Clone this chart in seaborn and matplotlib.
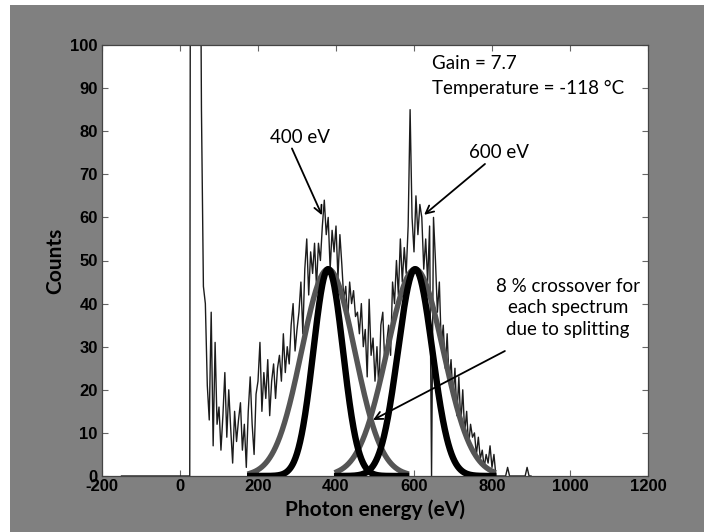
import numpy as np
import pandas as pd
import matplotlib
matplotlib.use("Agg")
import matplotlib.pyplot as plt
import seaborn as sns
from matplotlib.patches import Rectangle

# ---------------- data ----------------
spec_start = -150          # eV, first bin
spec_step = 5              # eV per bin
counts_low = [0] * 36      # -150 .. 25 eV
counts_noise_peak = [400, 420, 380, 300, 170]   # 30 .. 50 eV (clipped off the top)
counts_main = [
    85, 44, 40, 21, 13, 38, 7, 31, 12, 16,      # 55-100
    6, 14, 24, 9, 20, 11, 3, 15, 8, 13,         # 105-150
    17, 6, 12, 2, 15, 23, 12, 5, 19, 22,        # 155-200
    31, 15, 24, 18, 27, 14, 22, 26, 18, 25,     # 205-250
    28, 22, 33, 24, 30, 26, 35, 40, 29, 34,     # 255-300
    38, 45, 33, 48, 55, 42, 52, 47, 54, 44,     # 305-350
    54, 50, 58, 64, 56, 60, 48, 57, 52, 58,     # 355-400
    46, 56, 49, 41, 44, 36, 45, 40, 43, 37,     # 405-450
    38, 33, 40, 30, 34, 23, 41, 28, 32, 22,     # 455-500
    30, 20, 35, 38, 26, 31, 35, 28, 45, 40,     # 505-550
    50, 42, 55, 45, 53, 47, 58, 85, 60, 52,     # 555-600
    65, 56, 63, 60, 48, 55, 45, 58, 0, 60,      # 605-650
    50, 38, 45, 30, 35, 25, 33, 22, 27, 18,     # 655-700
    25, 14, 23, 12, 20, 10, 15, 7, 12, 9,       # 705-750
    10, 5, 9, 4, 6, 2, 5, 3, 7, 2,              # 755-800
    5, 0,                                       # 805-810
]
counts_tail = [0, 0, 0, 0, 0, 2, 0, 0, 0, 0, 0, 0, 0, 0, 0, 2, 0, 0]  # 815-900

# Gaussian fits: [400 eV line, 600 eV line]
fit_center = [380, 603]
fit_amplitude = [48, 48]
fit_sigma_gray = [68, 72]
fit_sigma_black = [38, 44]
fit_half_range = 200

x_ticks = [-200, 0, 200, 400, 600, 800, 1000, 1200]
y_ticks = [0, 10, 20, 30, 40, 50, 60, 70, 80, 90, 100]

# ---------------- build tables ----------------
counts = counts_low + counts_noise_peak + counts_main + counts_tail
energy = spec_start + spec_step * np.arange(len(counts))
spec = pd.DataFrame({"energy": energy, "counts": counts})

fit_rows = []
for k, (c, a, sg, sb) in enumerate(zip(fit_center, fit_amplitude, fit_sigma_gray, fit_sigma_black)):
    e = np.linspace(c - fit_half_range, c + fit_half_range, 401)
    fit_rows.append(pd.DataFrame({"energy": e, "counts": a * np.exp(-(e - c) ** 2 / (2 * sg ** 2)),
                                  "curve": f"g{k}"}))
    fit_rows.append(pd.DataFrame({"energy": e, "counts": a * np.exp(-(e - c) ** 2 / (2 * sb ** 2)),
                                  "curve": f"b{k}"}))
fits = pd.concat(fit_rows, ignore_index=True)

# ---------------- figure ----------------
W, H = 704, 532
fig = plt.figure(figsize=(W / 100, H / 100), dpi=100, facecolor="white")
bg = Rectangle((10 / W, 0), 1 - 10 / W, 1 - 5 / H, transform=fig.transFigure,
               facecolor="#808080", edgecolor="none", zorder=-10)
fig.add_artist(bg)
ax = fig.add_axes([102 / W, 1 - 476 / H, 546 / W, 431 / H])
ax.set_zorder(5)
ax.set_facecolor("white")

sns.lineplot(data=spec, x="energy", y="counts", ax=ax, color="#1c1c1c", linewidth=1.0,
             estimator=None, sort=False, zorder=2)
for k in range(len(fit_center)):
    sns.lineplot(data=fits[fits.curve == f"g{k}"], x="energy", y="counts", ax=ax,
                 color="#555555", linewidth=3.9, estimator=None, sort=False, zorder=3)
for k in range(len(fit_center)):
    sns.lineplot(data=fits[fits.curve == f"b{k}"], x="energy", y="counts", ax=ax,
                 color="black", linewidth=4.6, estimator=None, sort=False, zorder=4)

ax.set_xlim(-200, 1200)
ax.set_ylim(0, 100)
ax.set_xticks(x_ticks)
ax.set_yticks(y_ticks)
ax.set_xticklabels([str(t) for t in x_ticks], fontfamily="Liberation Sans", fontweight="bold", fontsize=12)
ax.set_yticklabels([str(t) for t in y_ticks], fontfamily="Liberation Sans", fontweight="bold", fontsize=12)
ax.tick_params(direction="in", top=True, right=True, length=4, width=0.8, color="#666666", pad=3)
ax.tick_params(axis="x", pad=2)
for s in ax.spines.values():
    s.set_color("#444444")
    s.set_linewidth(0.9)

ax.set_xlabel("Photon energy (eV)", fontfamily="Lato", fontsize=15, fontweight="bold", labelpad=4)
ax.set_ylabel("Counts", fontfamily="Lato", fontsize=15, fontweight="bold", labelpad=4)

tfont = dict(fontfamily="Lato", fontsize=13.5, color="black")
ax.text(646, 95.8, "Gain = 7.7", ha="left", va="center", **tfont)
ax.text(646, 90.0, "Temperature = -118 °C", ha="left", va="center", **tfont)
ax.text(995, 39, "8 % crossover for\neach spectrum\ndue to splitting", ha="center", va="center",
        linespacing=1.35, **tfont)

arrow = dict(arrowstyle="->", color="black", lw=1.3, mutation_scale=14, shrinkA=0, shrinkB=0)
ax.annotate("400 eV", xy=(307, 78.5), ha="center", va="center", **tfont)
ax.annotate("", xy=(364, 60.5), xytext=(287, 76), arrowprops=arrow)
ax.annotate("600 eV", xy=(818, 75), ha="center", va="center", **tfont)
ax.annotate("", xy=(626, 60.6), xytext=(782, 72.4), arrowprops=arrow)
ax.annotate("", xy=(495, 13), xytext=(833, 29), arrowprops=arrow)

fig.savefig("out.png", dpi=100, facecolor=fig.get_facecolor())
